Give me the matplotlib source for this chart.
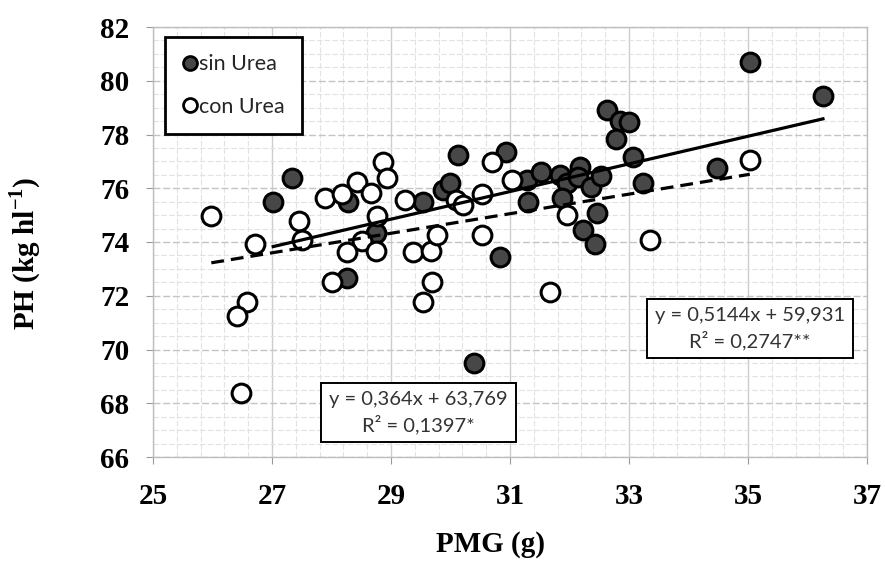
import numpy as np
import matplotlib
matplotlib.use("Agg")
import matplotlib.pyplot as plt
from matplotlib.ticker import AutoMinorLocator
from matplotlib.lines import Line2D

plt.rcParams['mathtext.fontset'] = 'custom'
plt.rcParams['mathtext.rm'] = 'Liberation Serif'
plt.rcParams['mathtext.bf'] = 'Liberation Serif:bold'

# ---- data: sin Urea (filled) ----
sin_x = [27.02, 27.34, 28.27, 28.26, 28.74, 29.54, 29.87, 29.99, 30.12, 30.94,
         30.83, 30.40, 31.30, 31.28, 31.52, 31.84, 31.96, 31.87, 32.18, 32.14,
         32.36, 32.53, 32.47, 32.23, 32.43, 32.63, 32.85, 33.00, 32.78, 33.07,
         33.24, 34.48, 35.03, 36.26]
sin_y = [75.50, 76.40, 75.50, 72.66, 74.35, 75.50, 75.94, 76.20, 77.22, 77.35,
         73.45, 69.50, 75.48, 76.30, 76.60, 76.50, 76.20, 75.64, 76.80, 76.43,
         76.05, 76.45, 75.08, 74.46, 73.93, 78.90, 78.50, 78.45, 77.85, 77.15,
         76.18, 76.75, 80.70, 79.45]

# ---- data: con Urea (open) ----
con_x = [25.98, 26.58, 26.41, 26.48, 26.71, 27.45, 27.50, 27.89, 28.18, 28.43,
         28.66, 28.87, 28.94, 28.76, 28.52, 28.26, 28.75, 28.01, 29.24, 29.37,
         29.68, 29.78, 29.69, 29.54, 30.70, 31.03, 30.53, 30.10, 30.21, 30.53,
         31.96, 33.35, 31.67, 35.03]
con_y = [74.97, 71.77, 71.25, 68.38, 73.93, 74.80, 74.07, 75.64, 75.80, 76.22,
         75.83, 76.98, 76.38, 74.95, 74.03, 73.63, 73.65, 72.50, 75.56, 73.63,
         73.65, 74.26, 72.50, 71.77, 76.98, 76.30, 75.80, 75.56, 75.38, 74.26,
         75.00, 74.07, 72.14, 77.05]

# regression coefficients (slope, intercept)
sin_fit = [0.5144, 59.931]
con_fit = [0.364, 63.769]

labels = ["sin Urea", "con Urea"]
eq_sin = "y = 0,5144x + 59,931\nR² = 0,2747**"
eq_con = "y = 0,364x + 63,769\nR² = 0,1397*"

x_ticks = [25, 27, 29, 31, 33, 35, 37]
y_ticks = [66, 68, 70, 72, 74, 76, 78, 80, 82]

fig = plt.figure(figsize=(8.85, 5.62), dpi=100)
ax = fig.add_axes([153/885, 1-457/562, 714/885, 430/562])

ax.set_xlim(25, 37)
ax.set_ylim(66, 82)
ax.set_xticks(x_ticks)
ax.set_yticks(y_ticks)
ax.xaxis.set_minor_locator(AutoMinorLocator(5))
ax.yaxis.set_minor_locator(AutoMinorLocator(4))

ax.grid(which='major', axis='x', color='#cdcdcd', lw=1.0, ls='-')
ax.grid(which='major', axis='y', color='#c4c4c4', lw=1.0, ls=(0, (5, 2)))
ax.grid(which='minor', color='#e2e2e2', lw=0.8, ls=(0, (5, 2)))
ax.set_axisbelow(True)
for s in ax.spines.values():
    s.set_color('#bdbdbd')
    s.set_linewidth(1.0)

ax.tick_params(which='minor', length=0)
ax.tick_params(which='major', length=5, color='#9a9a9a', direction='out')
ax.tick_params(axis='y', pad=12)
ax.tick_params(axis='x', pad=14)
for lab in ax.get_xticklabels() + ax.get_yticklabels():
    lab.set_fontfamily('Liberation Serif')
    lab.set_fontweight('bold')
    lab.set_fontsize(21)

ms = 13.5
ax.plot(sin_x, sin_y, 'o', ms=ms, mfc='#474747', mec='black', mew=2.2,
        zorder=3, label=labels[0])
ax.plot(con_x, con_y, 'o', ms=ms, mfc='white', mec='black', mew=2.2,
        zorder=4, label=labels[1])

xs = np.array([min(sin_x), max(sin_x)])
ax.plot(xs, sin_fit[0]*xs + sin_fit[1], color='black', lw=2.3, zorder=5)
xc = np.array([min(con_x), max(con_x)])
ax.plot(xc, con_fit[0]*xc + con_fit[1], color='black', lw=2.3,
        ls=(0, (4, 2.2)), zorder=5)

ax.set_xlabel("PMG (g)", fontfamily='Liberation Serif', fontweight='bold',
              fontsize=21)
ax.xaxis.set_label_coords((490-153)/714, -(531-457)/430)
ax.set_ylabel("PH (kg hl$^{\\mathbf{-1}}$)", fontfamily='Liberation Serif',
              fontweight='bold', fontsize=21)
ax.yaxis.set_label_coords(-(153-43)/714, (457-253)/430)

handles = [
    Line2D([], [], marker='o', ls='none', ms=10, mfc='#474747', mec='black', mew=2),
    Line2D([], [], marker='o', ls='none', ms=10, mfc='white', mec='black', mew=2),
]
leg = ax.legend(handles, labels, loc='upper left',
                bbox_to_anchor=((165-153)/714, (457-37)/430),
                borderaxespad=0, frameon=True, fancybox=False,
                prop={'family': 'Lato', 'size': 15.5}, labelspacing=1.05,
                handlelength=0.7, handletextpad=0.1, borderpad=0.8)
leg.get_frame().set_edgecolor('black')
leg.get_frame().set_linewidth(2.0)
leg.get_frame().set_alpha(1)
for t in leg.get_texts():
    t.set_color('#262626')

box = dict(boxstyle='square,pad=0.4', fc='white', ec='black', lw=1.4)
ax.text((750-153)/714, (457-328.5)/430, eq_sin, transform=ax.transAxes,
        ha='center', va='center', fontfamily='Lato', fontsize=14.5,
        color='#333333', linespacing=1.4, bbox=box, zorder=6,
        multialignment='center')
ax.text((418.5-153)/714, (457-412.5)/430, eq_con, transform=ax.transAxes,
        ha='center', va='center', fontfamily='Lato', fontsize=14.5,
        color='#333333', linespacing=1.4, bbox=box, zorder=6,
        multialignment='center')

fig.savefig("out.png", dpi=100)
